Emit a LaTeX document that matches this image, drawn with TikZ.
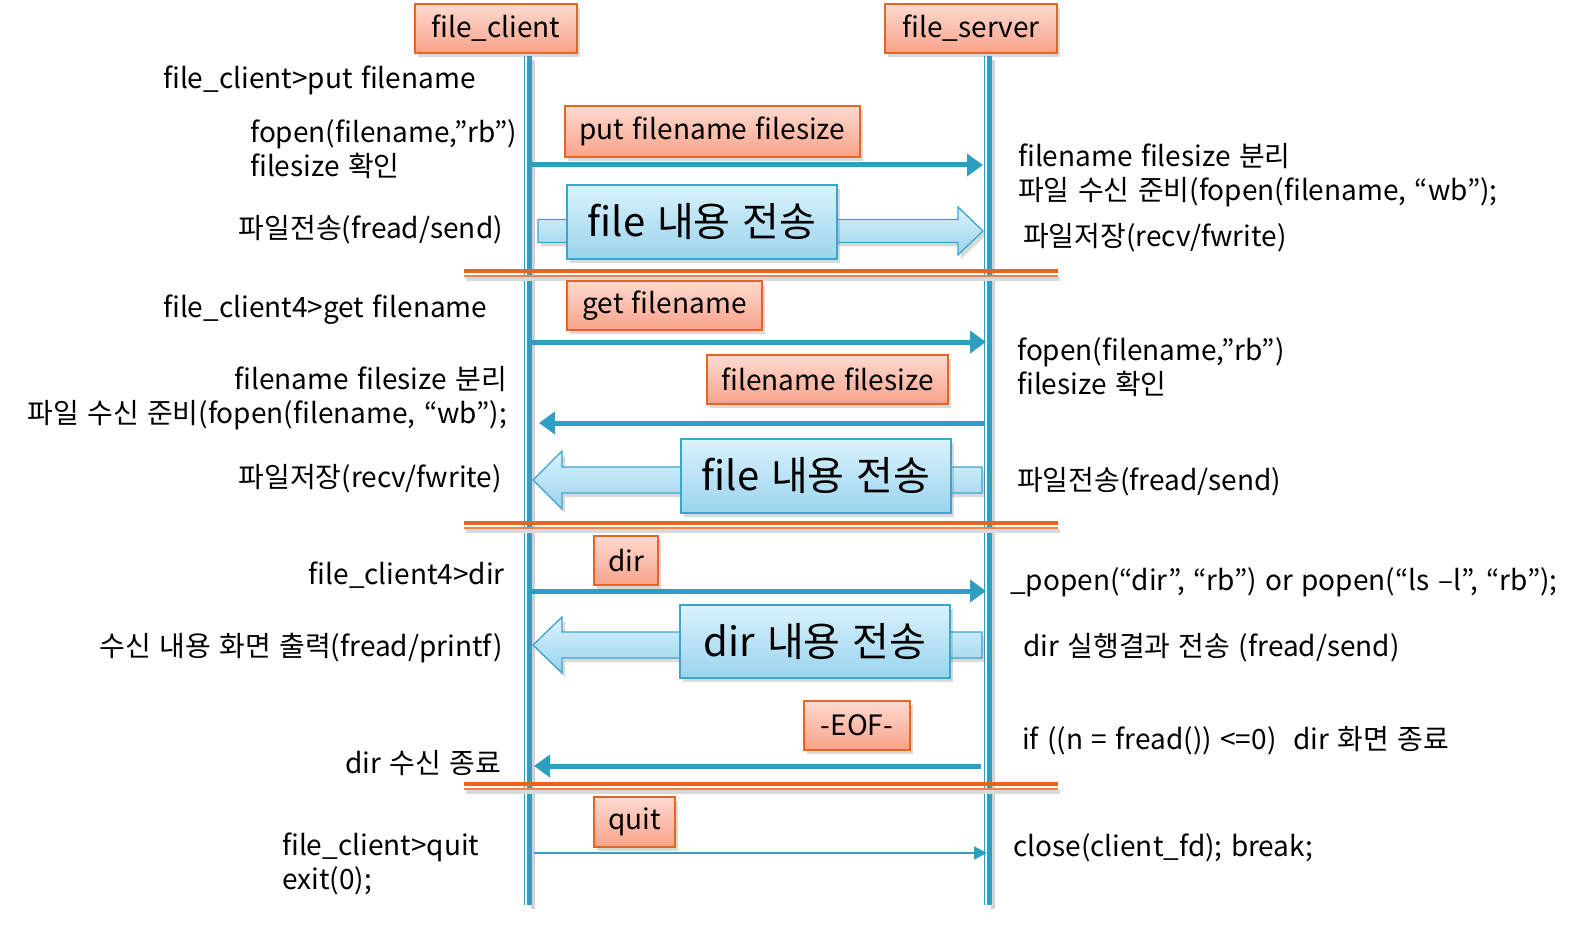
\documentclass[tikz,border=0pt]{standalone}
\usepackage{fontspec}
\setmainfont{Noto Sans CJK KR}
\usetikzlibrary{shadows,arrows.meta,calc}
\definecolor{lifeblue}{HTML}{2E9FC1}
\definecolor{org}{HTML}{E8651F}
\definecolor{otop}{HTML}{FDDAD0}
\definecolor{obot}{HTML}{F9A288}
\definecolor{btop}{HTML}{DAF2FC}
\definecolor{bbot}{HTML}{9AD4EE}
\definecolor{bborder}{HTML}{3AA6CC}
\newcommand\myobfont{\fontsize{28}{32}\selectfont\spaceskip 0.3em\relax}
\newcommand\mybbfont{\fontsize{40}{44}\selectfont\spaceskip 0.3em\relax}
\newcommand\mylblfont{\fontsize{28}{34}\selectfont\spaceskip 0.3em\relax}
\tikzset{
  shad/.style={drop shadow={opacity=0.3, shadow xshift=3pt, shadow yshift=-4pt}},
  obox/.style={draw=org, line width=2pt, top color=otop, bottom color=obot,
    inner sep=0pt, font=\myobfont, shad},
  bbox/.style={draw=bborder, line width=1.5pt, top color=btop, bottom color=bbot,
    inner sep=0pt, font=\mybbfont, shad},
  lbl/.style={font=\mylblfont, inner sep=0pt},
  msg/.style={draw=lifeblue, line width=5pt, -{Triangle[length=16pt,width=22pt]}},
  thinmsg/.style={draw=lifeblue, line width=1.8pt, -{Triangle[length=13pt,width=13pt]}},
  blockarrow/.style={draw=bborder, line width=1.3pt, top color=btop, bottom color=bbot, shad},
  life/.style={draw=lifeblue, line width=5pt},
  lifethin/.style={draw=lifeblue, line width=1.6pt},
  sep/.style={draw=org, line width=4pt},
  septhin/.style={draw=org!80, line width=1.5pt},
}
\begin{document}
\begin{tikzpicture}[x=1pt,y=-1pt]
\useasboundingbox (0,0) rectangle (1588,936);
% lifelines
\coordinate (ct) at (529.5,56); \coordinate (cb) at (529.5,905);
\coordinate (ctt) at (524.5,56); \coordinate (cbt) at (524.5,905);
\coordinate (st) at (989.5,56); \coordinate (sb) at (989.5,905);
\coordinate (stt) at (984.5,56); \coordinate (sbt) at (984.5,905);
\draw[gray!35, line width=4pt] ($(ct)+(3,4)$) -- ($(cb)+(3,4)$);
\draw[gray!35, line width=4pt] ($(st)+(3,4)$) -- ($(sb)+(3,4)$);
\draw[life] (ct) -- (cb); \draw[lifethin] (ctt) -- (cbt);
\draw[life] (st) -- (sb); \draw[lifethin] (stt) -- (sbt);
% headers
\node[obox, minimum width=162, minimum height=49] (client) at (496,28.5) {file\_client};
\node[obox, minimum width=172, minimum height=49] (server) at (971,28.5) {file\_server};
% separators
\foreach \y/\n in {271/a,523/b,784/c}{
  \coordinate (sepL\n) at (464,\y); \coordinate (sepR\n) at (1058,\y);
  \draw[gray!30, line width=4pt] ($(sepL\n)+(2,8)$) -- ($(sepR\n)+(2,8)$);
  \draw[sep] (sepL\n) -- (sepR\n);
  \draw[septhin] ($(sepL\n)+(0,5)$) -- ($(sepR\n)+(0,5)$);
}
% ---- put
\node[obox, minimum width=295, minimum height=51] (put) at (712.5,131.5) {put filename filesize};
\coordinate (m1a) at (532,165); \coordinate (m1b) at (983,165);
\draw[msg] (m1a) -- (m1b);
\draw[blockarrow] (538,219.5) -- (958,219.5) -- (958,207) -- (983,231) -- (958,255) -- (958,242.5) -- (538,242.5) -- cycle;
\node[bbox, minimum width=270, minimum height=74] (fb1) at (702,222) {file 내용 전송};
% ---- get
\node[obox, minimum width=195, minimum height=49] (get) at (664.5,305.5) {get filename};
\coordinate (m2a) at (532,342); \coordinate (m2b) at (986,342);
\draw[msg] (m2a) -- (m2b);
\node[obox, minimum width=241, minimum height=49] (fnfs) at (827.5,379.5) {filename filesize};
\coordinate (m3a) at (985,423); \coordinate (m3b) at (539,423);
\draw[msg] (m3a) -- (m3b);
\draw[blockarrow] (982,467) -- (562,467) -- (562,451) -- (533,480) -- (562,509) -- (562,493) -- (982,493) -- cycle;
\node[bbox, minimum width=270, minimum height=74] (fb2) at (816,476) {file 내용 전송};
% ---- dir
\node[obox, minimum width=64, minimum height=49] (dir) at (626,560.5) {dir};
\coordinate (m4a) at (532,591); \coordinate (m4b) at (986,591);
\draw[msg] (m4a) -- (m4b);
\draw[blockarrow] (982,632) -- (562,632) -- (562,617) -- (533,645) -- (562,673) -- (562,658) -- (982,658) -- cycle;
\node[bbox, minimum width=270, minimum height=73] (db) at (815,641.5) {dir 내용 전송};
\node[obox, minimum width=106, minimum height=49] (eof) at (857,725.5) {-EOF-};
\coordinate (m5a) at (981,766); \coordinate (m5b) at (534,766);
\draw[msg] (m5a) -- (m5b);
% ---- quit
\node[obox, minimum width=81, minimum height=50] (quit) at (634.5,822) {quit};
\coordinate (m6a) at (534,853); \coordinate (m6b) at (987,853);
\draw[thinmsg] (m6a) -- (m6b);
% left labels
\node[lbl, anchor=west] (l1) at (163,80) {file\_client>put filename};
\node[lbl, anchor=west, align=left] (l2) at (250,149) {fopen(filename,”rb”)\\filesize 확인};
\node[lbl, anchor=east] (l3) at (503,230) {파일전송(fread/send)};
\node[lbl, anchor=west] (l4) at (163,310) {file\_client4>get filename};
\node[lbl, anchor=east, align=right] (l5) at (507,398) {filename filesize 분리\\파일 수신 준비(fopen(filename, “wb”);};
\node[lbl, anchor=east] (l6) at (502,479) {파일저장(recv/fwrite)};
\node[lbl, anchor=east] (l7) at (505,575) {file\_client4>dir};
\node[lbl, anchor=east] (l8) at (503,648) {수신 내용 화면 출력(fread/printf)};
\node[lbl, anchor=east] (l9) at (501,763) {dir 수신 종료};
\node[lbl, anchor=west, align=left] (l10) at (282,864) {file\_client>quit\\exit(0);};
% right labels
\node[lbl, anchor=west, align=left] (r1) at (1018,175) {filename filesize 분리\\파일 수신 준비(fopen(filename, “wb”);};
\node[lbl, anchor=west] (r2) at (1023,238) {파일저장(recv/fwrite)};
\node[lbl, anchor=west, align=left] (r3) at (1017,367) {fopen(filename,”rb”)\\filesize 확인};
\node[lbl, anchor=west] (r4) at (1017,482) {파일전송(fread/send)};
\node[lbl, anchor=west] (r5) at (1010,582) {\_popen(“dir”, “rb”) or popen(“ls –l”, “rb”);};
\node[lbl, anchor=west] (r6) at (1023,648) {dir 실행결과 전송 (fread/send)};
\node[lbl, anchor=west] (r7) at (1022,741) {if ((n = fread()) <=0)\ \ dir 화면 종료};
\node[lbl, anchor=west] (r8) at (1013,848) {close(client\_fd); break;};
\end{tikzpicture}
\end{document}
